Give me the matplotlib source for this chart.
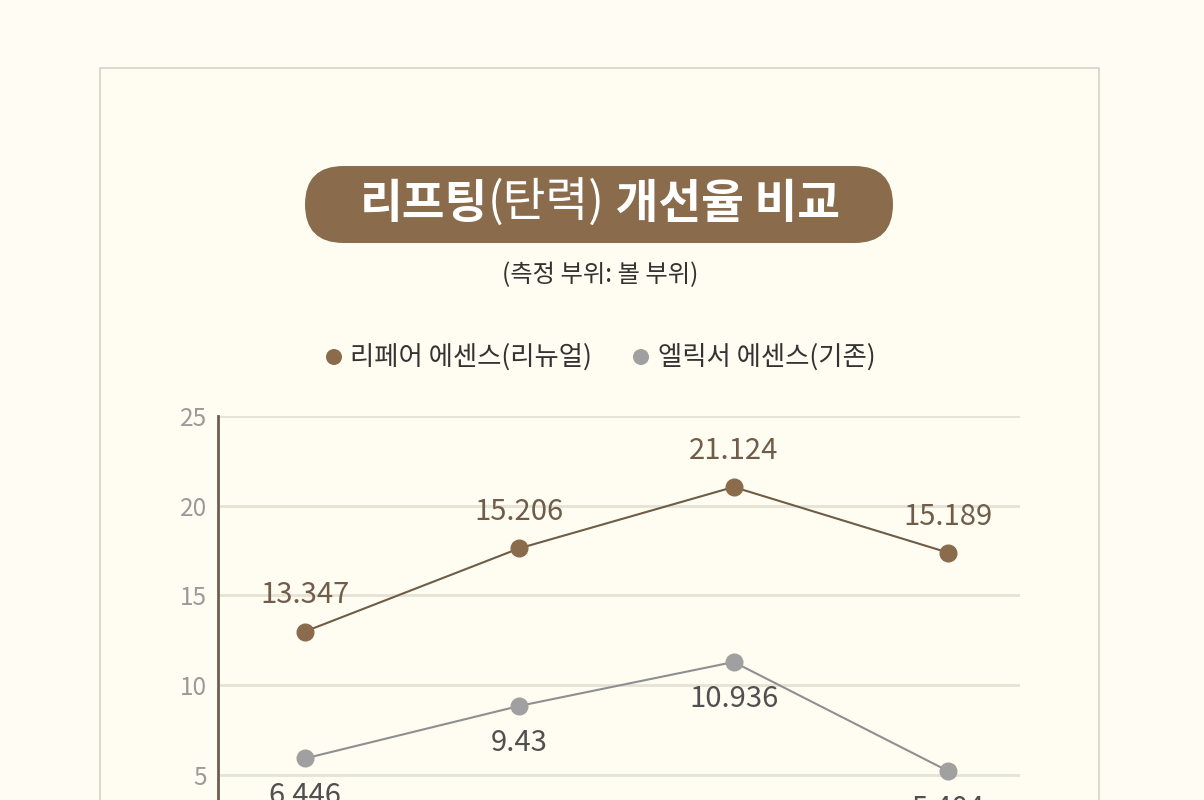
import matplotlib
matplotlib.use("Agg")
import matplotlib.pyplot as plt
from matplotlib.patches import FancyBboxPatch, Rectangle, Circle

plt.rcParams['font.family'] = ['Noto Sans CJK KR', 'DejaVu Sans']

# ---- data ----
categories = ["1", "2", "3", "4"]
series_names = ["리페어 에센스(리뉴얼)", "엘릭서 에센스(기존)"]
repair_values = [12.98, 17.62, 21.04, 17.38]
elixir_values = [5.90, 8.83, 11.28, 5.20]
repair_labels = ["13.347", "15.206", "21.124", "15.189"]
elixir_labels = ["6.446", "9.43", "10.936", "5.404"]
y_ticks = [5, 10, 15, 20, 25]
title_parts = [("리프팅", "bold"), ("(탄력)", "normal"), (" 개선율 비교", "bold")]
subtitle = "(측정 부위: 볼 부위)"

BG = "#fffdf3"
BROWN = "#8a6c4c"
BROWN_LINE = "#6e5c47"
BROWN_TXT = "#6f5d49"
GRAY = "#a0a0a0"
GRAY_LINE = "#8f8f8f"
GRAY_TXT = "#505050"

W, H = 1204, 800
fig = plt.figure(figsize=(W / 100, H / 100), dpi=100)
fig.patch.set_facecolor(BG)

# overlay in pixel coordinates
ov = fig.add_axes([0, 0, 1, 1], zorder=0)
ov.set_xlim(0, W)
ov.set_ylim(H, 0)
ov.axis("off")
ov.patch.set_alpha(0)

ov.add_patch(Rectangle((100, 68), 999, 800, facecolor="#fffdf1", edgecolor="#d6d3c8", lw=1.2))
ov.add_patch(FancyBboxPatch((305 + 38.5, 166 + 38.5), 588 - 77, 0,
                            boxstyle="round,pad=38.5",
                            facecolor=BROWN, edgecolor="none"))

# title pieces
fig.canvas.draw()
renderer = fig.canvas.get_renderer()
texts = []
for s, w in title_parts:
    t = ov.text(0, 204, s, fontsize=33.5, fontweight=w, color="white", va="center", ha="left")
    texts.append(t)
widths = [t.get_window_extent(renderer).width for t in texts]
x = 600 - sum(widths) / 2
for t, wd in zip(texts, widths):
    t.set_x(x)
    x += wd

ov.text(600, 275, subtitle, fontsize=17.5, color="#333333", ha="center", va="center")

# legend
ov.add_patch(Circle((334, 357), 8, facecolor=BROWN, edgecolor="none"))
ov.text(350, 357, series_names[0], fontsize=19, color="#333333", ha="left", va="center")
ov.add_patch(Circle((641, 357), 8, facecolor=GRAY, edgecolor="none"))
ov.text(658, 357, series_names[1], fontsize=19, color="#333333", ha="left", va="center")

# chart axes
px_per_unit = 17.93
top_px = 416
bottom_px = top_px + 25 * px_per_unit
ax = fig.add_axes([218 / W, (H - bottom_px) / H, 802 / W, (bottom_px - top_px) / H], zorder=1)
ax.patch.set_alpha(0)
x_idx = list(range(len(categories)))
ax.set_xlim(-87 / 214.5, 3 + 72 / 214.5)
ax.set_ylim(0, 25)
ax.set_yticks(y_ticks)
ax.set_yticklabels([str(v) for v in y_ticks])
ax.set_xticks([])
ax.tick_params(axis="y", length=0, pad=8, labelsize=17.5, labelcolor="#9a9a9a")
for lbl in ax.get_yticklabels():
    lbl.set_fontweight("light")
for sp in ["top", "right", "bottom"]:
    ax.spines[sp].set_visible(False)
ax.spines["left"].set_color("#6b5f50")
ax.spines["left"].set_linewidth(2)
for v in y_ticks:
    ax.axhline(v, color="#e6e3d6", lw=2, zorder=0)

ax.plot(x_idx, repair_values, color=BROWN_LINE, lw=1.5, zorder=2)
ax.plot(x_idx, repair_values, "o", color=BROWN, ms=12, zorder=3)
ax.plot(x_idx, elixir_values, color=GRAY_LINE, lw=1.5, zorder=2)
ax.plot(x_idx, elixir_values, "o", color=GRAY, ms=12, zorder=3)

for xi, v, lab in zip(x_idx, repair_values, repair_labels):
    ax.annotate(lab, (xi, v), xytext=(0, 26), textcoords="offset points",
                ha="center", va="center", fontsize=21, color=BROWN_TXT)
for xi, v, lab in zip(x_idx, elixir_values, elixir_labels):
    ax.annotate(lab, (xi, v), xytext=(0, -27), textcoords="offset points",
                ha="center", va="center", fontsize=21, color=GRAY_TXT, annotation_clip=False)

fig.savefig("out.png", dpi=100, facecolor=BG)
